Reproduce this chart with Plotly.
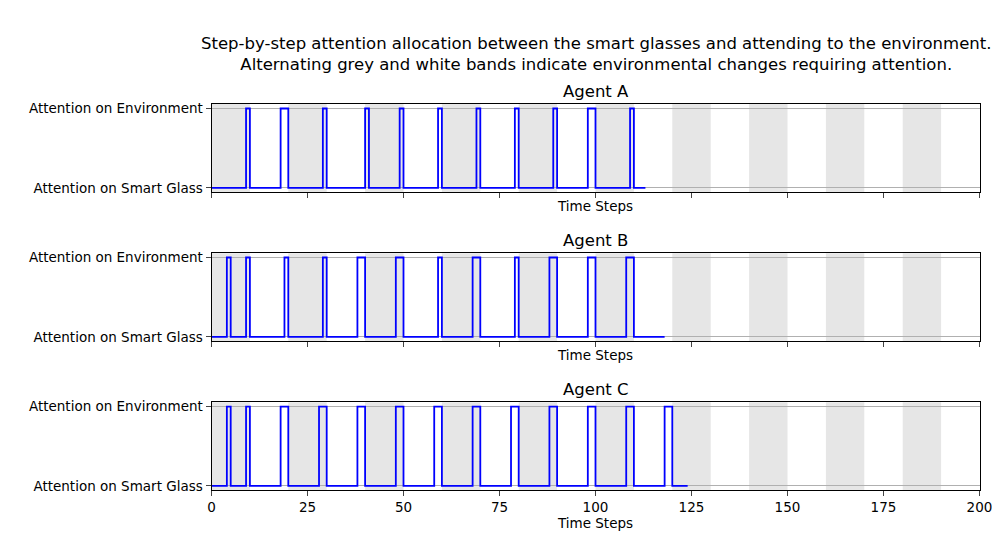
import plotly.graph_objects as go

agents = ["Agent A", "Agent B", "Agent C"]
# (start, end) of each attention-on-environment pulse
pulses_a = [(9, 10), (18, 20), (29, 30), (40, 41), (49, 50), (59, 60), (69, 70),
            (79, 80), (89, 90), (98, 100), (109, 110)]
pulses_b = [(4, 5), (9, 10), (19, 20), (29, 30), (38, 40), (48, 50), (59, 60),
            (68, 70), (79, 80), (88, 90), (98, 100), (108, 110)]
pulses_c = [(4, 5), (9, 10), (18, 20), (28, 30), (38, 40), (48, 50), (58, 60),
            (68, 70), (78, 80), (88, 90), (98, 100), (108, 110), (118, 120)]
ends = [113, 118, 124]
bands = [(0, 10), (20, 30), (40, 50), (60, 70), (80, 90), (100, 110),
         (120, 130), (140, 150), (160, 170), (180, 190)]
tick_vals = [0, 1]
tick_text = ["Attention on Smart Glass", "Attention on Environment"]


def steps(pulses, end):
    xs, ys = [0], [0]
    for s, e in pulses:
        xs += [s, e]
        ys += [1, 0]
    xs.append(end)
    ys.append(0)
    return xs, ys


fig = go.Figure()
domains = [(0.659, 0.822), (0.383, 0.546), (0.107, 0.270)]
for i, (name, pulses, end) in enumerate(zip(agents, [pulses_a, pulses_b, pulses_c], ends)):
    n = "" if i == 0 else str(i + 1)
    xs, ys = steps(pulses, end)
    fig.add_trace(go.Scatter(x=xs, y=ys, mode="lines", line_shape="hv",
                             line=dict(color="blue", width=1.8),
                             xaxis="x" + n, yaxis="y" + n, showlegend=False))
    for b0, b1 in bands:
        fig.add_shape(type="rect", x0=b0, x1=b1, y0=0, y1=1, xref="x" + n,
                      yref="y" + n + " domain", fillcolor="#e6e6e6",
                      line_width=0, layer="below")
    fig.layout["xaxis" + n] = dict(
        domain=[0.2035, 0.9715], anchor="y" + n, range=[0, 200], automargin=False,
        tickvals=[0, 25, 50, 75, 100, 125, 150, 175, 200],
        showticklabels=(i == 2), ticks="outside", ticklen=5, showgrid=False,
        showline=True, mirror=True, linecolor="black", zeroline=False,
        tickfont=dict(size=13.5),
        title=dict(text="Time Steps", standoff=4, font=dict(size=13.5)))
    fig.layout["yaxis" + n] = dict(
        domain=list(domains[i]), anchor="x" + n, range=[-0.055, 1.055], automargin=False,
        tickvals=tick_vals, ticktext=tick_text, ticks="outside", ticklen=5,
        showgrid=True, gridcolor="#b0b0b0", showline=True, mirror=True,
        linecolor="black", zeroline=False, tickfont=dict(size=13.5))
    fig.add_annotation(text=name, x=0.5875, xref="paper", y=domains[i][1],
                       yref="paper", yanchor="bottom", showarrow=False,
                       font=dict(size=16.5), yshift=1)

fig.add_annotation(
    text="Step-by-step attention allocation between the smart glasses and attending to the environment.<br>"
         "Alternating grey and white bands indicate environmental changes requiring attention.",
    x=0.5875, xref="paper", y=0.955, yref="paper", yanchor="top", showarrow=False,
    font=dict(size=16.5))

fig.update_layout(width=1000, height=540, margin=dict(l=0, r=0, t=0, b=0),
                  plot_bgcolor="white", paper_bgcolor="white",
                  font=dict(family="DejaVu Sans", size=13, color="black"))
fig.write_html("out.html")
